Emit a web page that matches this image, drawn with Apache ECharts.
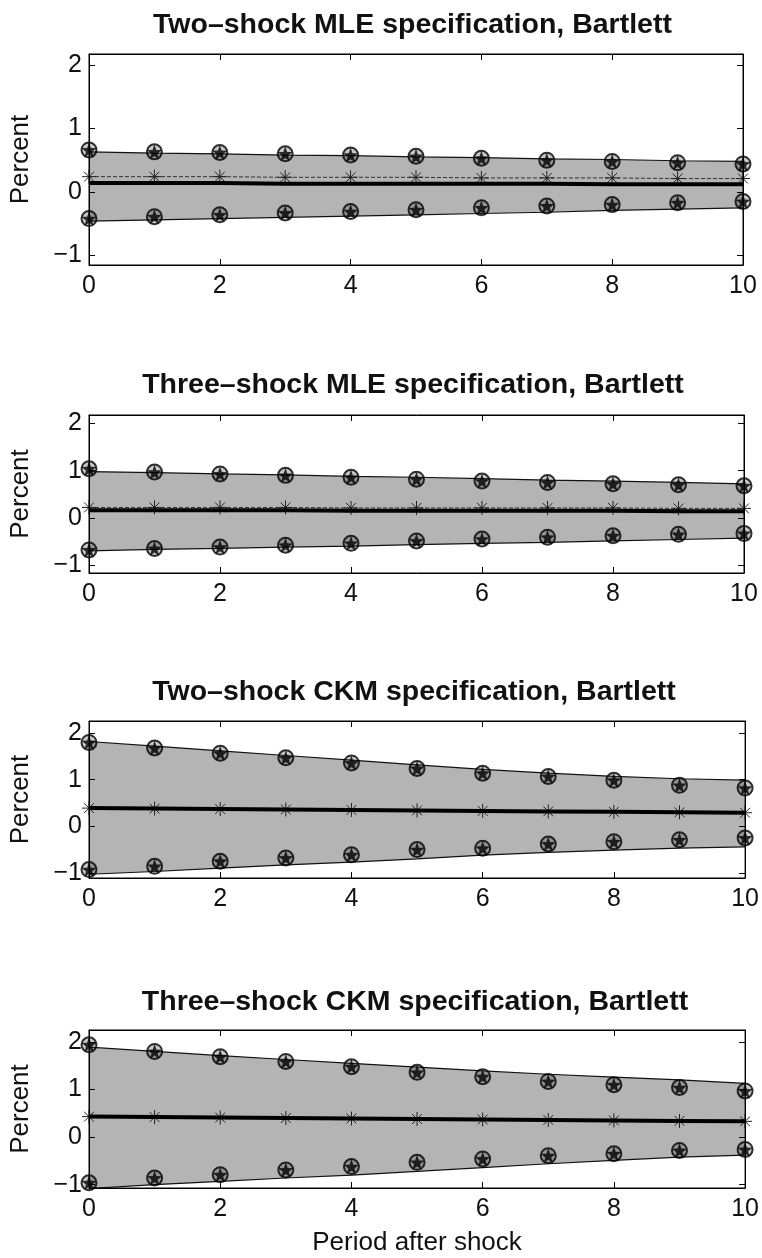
<!DOCTYPE html>
<html>
<head>
<meta charset="utf-8">
<script src="https://cdn.jsdelivr.net/npm/echarts@6/dist/echarts.min.js"></script>
<style>
html,body{margin:0;padding:0;background:#fff;}
#chart{width:762px;height:1258px;}
</style>
</head>
<body>
<div id="chart"></div>
<script>
// ---- data ----
const periods = [0,1,2,3,4,5,6,7,8,9,10];
const panelTitles = [
  'Two\u2013shock MLE specification, Bartlett',
  'Three\u2013shock MLE specification, Bartlett',
  'Two\u2013shock CKM specification, Bartlett',
  'Three\u2013shock CKM specification, Bartlett'
];
const yTickValues = [-1, 0, 1, 2];
const xAxisTitle = 'Period after shock';
const yAxisTitle = 'Percent';

const bandUpper1 = [0.63,0.61,0.60,0.58,0.57,0.55,0.54,0.52,0.51,0.49,0.48];
const bandLower1 = [-0.46,-0.44,-0.42,-0.40,-0.38,-0.36,-0.34,-0.32,-0.29,-0.27,-0.25];
const markUpper1 = [0.66,0.63,0.62,0.60,0.58,0.56,0.53,0.50,0.48,0.46,0.44];
const markLower1 = [-0.42,-0.39,-0.36,-0.33,-0.31,-0.28,-0.25,-0.22,-0.20,-0.17,-0.15];
const mainLine1  = [0.14,0.14,0.14,0.13,0.13,0.13,0.13,0.13,0.12,0.12,0.12];
const starLine1  = [0.24,0.24,0.24,0.23,0.23,0.23,0.22,0.22,0.22,0.21,0.21];

const bandUpper2 = [0.98,0.96,0.93,0.91,0.88,0.86,0.83,0.80,0.78,0.75,0.72];
const bandLower2 = [-0.70,-0.67,-0.65,-0.62,-0.60,-0.57,-0.54,-0.52,-0.49,-0.46,-0.43];
const markUpper2 = [1.04,0.97,0.93,0.90,0.86,0.82,0.78,0.75,0.72,0.70,0.68];
const markLower2 = [-0.68,-0.65,-0.62,-0.58,-0.54,-0.49,-0.45,-0.41,-0.38,-0.35,-0.33];
const mainLine2  = [0.16,0.16,0.16,0.16,0.15,0.15,0.15,0.15,0.15,0.14,0.14];
const starLine2  = [0.22,0.22,0.22,0.22,0.21,0.21,0.21,0.21,0.21,0.20,0.20];

const bandUpper3 = [1.82,1.72,1.62,1.52,1.42,1.32,1.22,1.14,1.07,1.02,0.99];
const bandLower3 = [-1.03,-0.97,-0.90,-0.83,-0.77,-0.70,-0.62,-0.56,-0.51,-0.47,-0.44];
const markUpper3 = [1.80,1.68,1.57,1.47,1.36,1.24,1.14,1.07,0.99,0.88,0.82];
const markLower3 = [-0.93,-0.86,-0.75,-0.68,-0.61,-0.50,-0.47,-0.38,-0.33,-0.29,-0.25];
const mainLine3  = [0.39,0.38,0.37,0.36,0.35,0.34,0.33,0.32,0.31,0.30,0.29];
const starLine3  = [0.39,0.38,0.37,0.36,0.35,0.34,0.33,0.32,0.31,0.30,0.29];

const bandUpper4 = [1.89,1.80,1.71,1.63,1.55,1.47,1.39,1.32,1.26,1.20,1.13];
const bandLower4 = [-1.08,-1.00,-0.93,-0.86,-0.80,-0.72,-0.64,-0.56,-0.49,-0.42,-0.38];
const markUpper4 = [1.94,1.80,1.69,1.59,1.48,1.36,1.27,1.17,1.10,1.04,0.97];
const markLower4 = [-0.96,-0.86,-0.79,-0.69,-0.62,-0.53,-0.46,-0.39,-0.35,-0.28,-0.26];
const mainLine4  = [0.43,0.42,0.41,0.40,0.39,0.38,0.37,0.36,0.35,0.34,0.33];
const starLine4  = [0.43,0.42,0.41,0.40,0.39,0.38,0.37,0.36,0.35,0.34,0.33];

const yRanges = [[-1.15,2.17],[-1.17,2.18],[-1.11,2.26],[-1.07,2.25]];

// ---- assemble ----
const panels = [
  {bu:bandUpper1, bl:bandLower1, mu:markUpper1, ml:markLower1, main:mainLine1, star:starLine1},
  {bu:bandUpper2, bl:bandLower2, mu:markUpper2, ml:markLower2, main:mainLine2, star:starLine2},
  {bu:bandUpper3, bl:bandLower3, mu:markUpper3, ml:markLower3, main:mainLine3, star:starLine3},
  {bu:bandUpper4, bl:bandLower4, mu:markUpper4, ml:markLower4, main:mainLine4, star:starLine4}
];
const layout = [
  {left:82, right:19, top:54, height:211, titleTop:11},
  {left:82, right:18, top:415, height:158, titleTop:371},
  {left:82, right:16, top:721, height:157, titleTop:678},
  {left:82, right:14, top:1030, height:158, titleTop:988}
];
const FONT = "'Liberation Sans', Arial, Helvetica, sans-serif";
const starPath = 'path://M0,-10 L2.35,-3.24 L9.51,-3.09 L3.80,1.24 L5.88,8.09 L0,4 L-5.88,8.09 L-3.80,1.24 L-9.51,-3.09 L-2.35,-3.24 Z';
const asteriskPath = 'path://M0,-6 L0,6 M-6,0 L6,0 M-4.2,-4.2 L4.2,4.2 M-4.2,4.2 L4.2,-4.2';

const grids = [], xAxes = [], yAxes = [], series = [], titles = [];
const minusFmt = v => v < 0 ? '\u2212' + (-v) : String(v);

panels.forEach((p, i) => {
  const L = layout[i];
  grids.push({left:L.left, right:L.right, top:L.top, height:L.height, show:true,
    borderColor:'#000', borderWidth:1, backgroundColor:'transparent', z:10});
  const plotCenter = L.left + (762 - L.left - L.right) / 2;
  titles.push({text: panelTitles[i], left: plotCenter, top: L.titleTop, textAlign:'center', padding:0,
    textStyle:{fontFamily:FONT, fontSize:28.5, fontWeight:'bold', color:'#111'}});
  const axLine = {show:true, onZero:false, lineStyle:{color:'#000', width:1}};
  xAxes.push({type:'value', gridIndex:i, min:0, max:10, interval:2, position:'bottom', z:10,
    axisLine:axLine, axisTick:{show:true, inside:true, length:6, lineStyle:{color:'#000'}},
    axisLabel:{fontFamily:FONT, fontSize:25, color:'#111', margin:9},
    splitLine:{show:false},
    name: i === 3 ? xAxisTitle : '', nameLocation:'middle', nameGap:42,
    nameTextStyle:{fontFamily:FONT, fontSize:26, color:'#111'}});
  xAxes.push({type:'value', gridIndex:i, min:0, max:10, interval:2, position:'top', z:10,
    axisLine:axLine, axisTick:{show:true, inside:true, length:6, lineStyle:{color:'#000'}},
    axisLabel:{show:false}, splitLine:{show:false}});
  yAxes.push({type:'value', gridIndex:i, min:yRanges[i][0], max:yRanges[i][1], position:'left', z:10,
    axisLine:axLine,
    axisTick:{show:true, inside:true, length:6, customValues:yTickValues, lineStyle:{color:'#000'}},
    axisLabel:{fontFamily:FONT, fontSize:25, color:'#111', margin:7, customValues:yTickValues, formatter:minusFmt},
    splitLine:{show:false},
    name:yAxisTitle, nameLocation:'middle', nameGap:55,
    nameTextStyle:{fontFamily:FONT, fontSize:26, color:'#111'}});
  yAxes.push({type:'value', gridIndex:i, min:yRanges[i][0], max:yRanges[i][1], position:'right', z:10,
    axisLine:axLine,
    axisTick:{show:true, inside:true, length:6, customValues:yTickValues, lineStyle:{color:'#000'}},
    axisLabel:{show:false}, splitLine:{show:false}});

  const xi = i * 2, yi = i * 2;
  // shaded band
  series.push({type:'custom', xAxisIndex:xi, yAxisIndex:yi, silent:true, z:1, clip:true,
    data:[[0, 0]],
    renderItem:(params, api) => {
      const pts = [];
      for (let k = 0; k < periods.length; k++) pts.push(api.coord([periods[k], p.bu[k]]));
      for (let k = periods.length - 1; k >= 0; k--) pts.push(api.coord([periods[k], p.bl[k]]));
      return {type:'polygon', shape:{points:pts}, style:{fill:'#b4b4b4'}};
    }});
  const zip = arr => periods.map((x, k) => [x, arr[k]]);
  // band edges
  [p.bu, p.bl].forEach(arr => series.push({type:'line', xAxisIndex:xi, yAxisIndex:yi, data:zip(arr),
    symbol:'none', silent:true, z:2, lineStyle:{color:'#111', width:1.2}}));
  // asterisk line
  series.push({type:'line', xAxisIndex:xi, yAxisIndex:yi, data:zip(p.star), silent:true, z:3,
    symbol:asteriskPath, symbolSize:14, showAllSymbol:true,
    itemStyle:{color:'none', borderColor:'#222', borderWidth:1},
    lineStyle:{color:'#333', width:1, type:'dashed'}});
  // main thick line
  series.push({type:'line', xAxisIndex:xi, yAxisIndex:yi, data:zip(p.main), symbol:'none', silent:true, z:4,
    lineStyle:{color:'#000', width:4}});
  // markers: circle outline + filled star
  [p.mu, p.ml].forEach(arr => {
    series.push({type:'scatter', xAxisIndex:xi, yAxisIndex:yi, data:zip(arr), silent:true, z:5,
      symbol:'circle', symbolSize:15,
      itemStyle:{color:'rgba(60,60,60,0.35)', borderColor:'#000', borderWidth:2}});
    series.push({type:'scatter', xAxisIndex:xi, yAxisIndex:yi, data:zip(arr), silent:true, z:6,
      symbol:starPath, symbolSize:15, itemStyle:{color:'#000'}});
  });
});

const chart = echarts.init(document.getElementById('chart'), null, {renderer:'canvas'});
chart.setOption({
  animation:false,
  backgroundColor:'#fff',
  title:titles,
  grid:grids,
  xAxis:xAxes,
  yAxis:yAxes,
  series:series
});
</script>
</body>
</html>
